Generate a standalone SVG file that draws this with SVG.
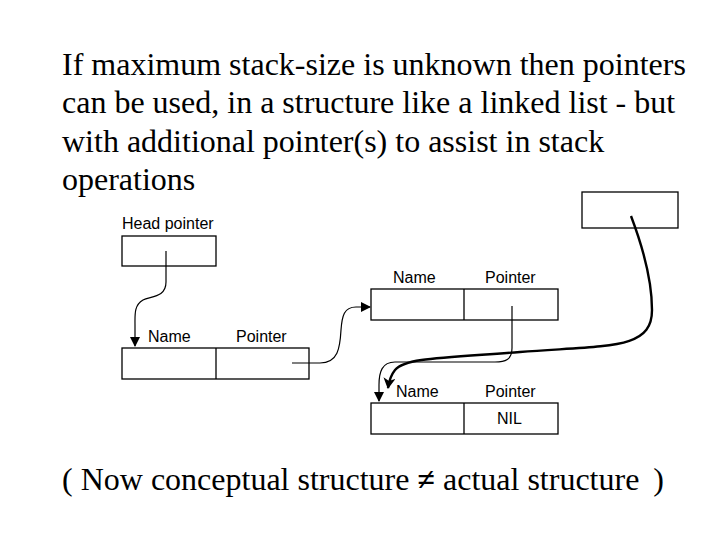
<svg xmlns="http://www.w3.org/2000/svg" width="720" height="540" viewBox="0 0 720 540">
<defs>
<style>
.t{font-family:"Liberation Serif","Times New Roman",serif;font-size:32px;fill:#000}
.l{font-family:"Liberation Sans",Arial,sans-serif;font-size:16px;fill:#000}
.b{fill:#fff;stroke:#000;stroke-width:1.3}
.c{fill:none;stroke:#000;stroke-width:1.2}
.k{fill:none;stroke:#000;stroke-width:2.4}
</style>
<marker id="ah" markerWidth="10" markerHeight="10" refX="9" refY="5" orient="auto" markerUnits="userSpaceOnUse"><path d="M0,0 L10,5 L0,10 Z" fill="#000"/></marker>
<marker id="ahk" markerWidth="12" markerHeight="12" refX="10" refY="6" orient="auto" markerUnits="userSpaceOnUse"><path d="M0,0 L11,6 L0,12 L3,6 Z" fill="#000"/></marker>
</defs>
<rect width="720" height="540" fill="#fff"/>
<g id="heading">
<text class="t" x="62" y="75">If maximum stack-size is unknown then pointers</text>
<text class="t" x="62" y="113">can be used, in a structure like a linked list - but</text>
<text class="t" x="62" y="152">with additional pointer(s) to assist in stack</text>
<text class="t" x="62" y="190">operations</text>
</g>
<g id="head">
<text class="l" x="122" y="229">Head pointer</text>
<rect class="b" x="122" y="236" width="94" height="30"/>
</g>
<g id="node1">
<text class="l" x="148" y="342">Name</text>
<text class="l" x="236" y="342">Pointer</text>
<rect class="b" x="122" y="348" width="187" height="31"/>
<line x1="216" y1="348" x2="216" y2="379" stroke="#000" stroke-width="1.3"/>
</g>
<g id="node2">
<text class="l" x="393" y="283">Name</text>
<text class="l" x="485" y="283">Pointer</text>
<rect class="b" x="371" y="289" width="187" height="31"/>
<line x1="464" y1="289" x2="464" y2="320" stroke="#000" stroke-width="1.3"/>
</g>
<g id="node3">
<text class="l" x="396" y="397">Name</text>
<text class="l" x="485" y="397">Pointer</text>
<rect class="b" x="371" y="403" width="187" height="31"/>
<line x1="464" y1="403" x2="464" y2="434" stroke="#000" stroke-width="1.3"/>
<text class="l" x="497" y="424">NIL</text>
</g>
<g id="extra">
<rect class="b" x="582" y="192" width="96" height="36"/>
</g>
<g id="connectors">
<path class="c" marker-end="url(#ah)" d="M166,251 L166,282 C166,298 150,296 143,300 C134,305 135,315 135,325 L135,346"/>
<path class="c" marker-end="url(#ah)" d="M292,363 L320,363 C338,363 340,348 341,330 C342,316 344,307 356,307 L370,307"/>
<path class="c" marker-end="url(#ah)" d="M512,306 L512,348 C512,360 505,362 495,362 L395,362 C382,362 379,372 379,385 L379,401"/>
<path class="k" marker-end="url(#ahk)" d="M631,216 C642,245 652,280 652,310 C652,350 610,345 520,352 C440,358 405,358 395,370 C391,375 389,381 388,388"/>
</g>
<g id="footer">
<text class="t" x="62" y="490">( Now conceptual structure <tspan font-weight="bold">≠</tspan> actual structure <tspan dx="6">)</tspan></text>
</g>
</svg>
